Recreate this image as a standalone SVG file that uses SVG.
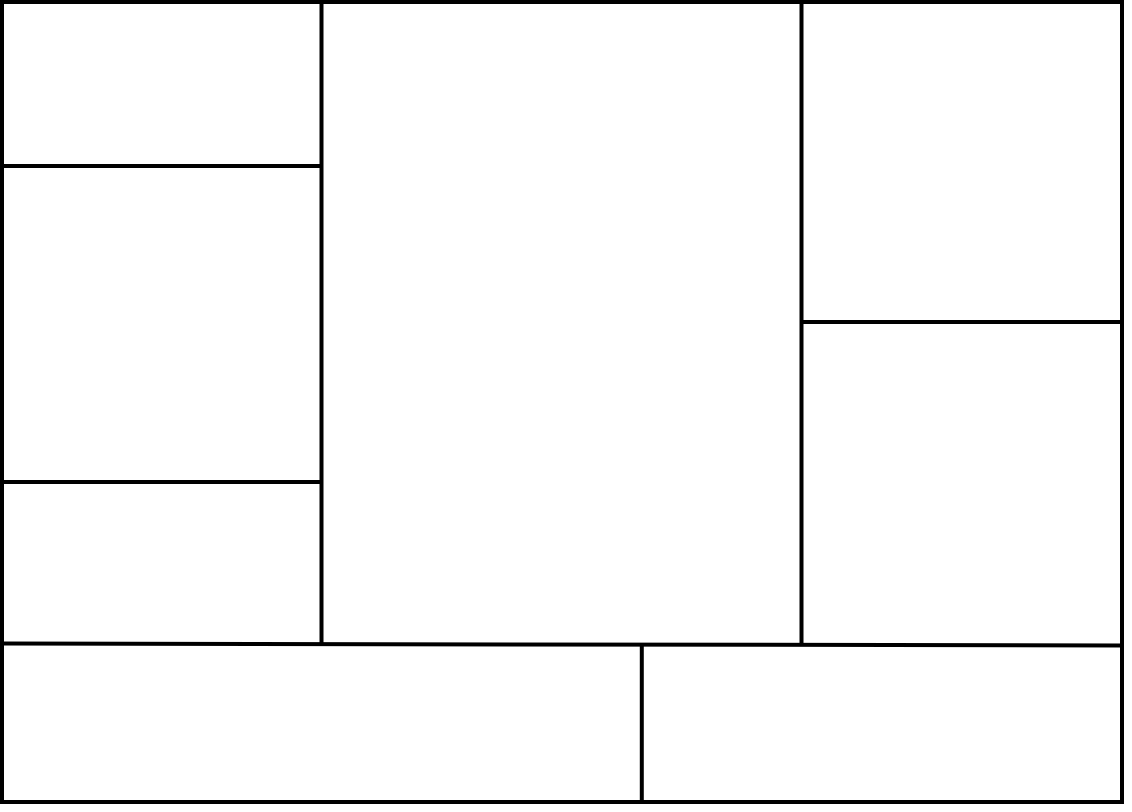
<svg xmlns="http://www.w3.org/2000/svg" width="1132" height="812" viewBox="0 0 1132 812">
<style>
.ln{stroke:#000;stroke-width:4;fill:none;stroke-linecap:butt}
</style>
<rect x="0" y="0" width="1132" height="812" fill="#fff"/>
<g id="frame">
<rect class="ln" x="2" y="2" width="1120" height="800"/>
</g>
<g id="connectors">
<line class="ln" x1="321.5" y1="2" x2="321.5" y2="644"/>
<line class="ln" x1="2" y1="166" x2="321.5" y2="166"/>
<line class="ln" x1="2" y1="482" x2="321.5" y2="482"/>
<line class="ln" x1="801.5" y1="2" x2="801.5" y2="643"/>
<line class="ln" x1="801.5" y1="322" x2="1122" y2="322"/>
<line class="ln" x1="2" y1="643.5" x2="1122" y2="645.5"/>
<line class="ln" x1="641.8" y1="644" x2="641.8" y2="802"/>
</g>
</svg>
